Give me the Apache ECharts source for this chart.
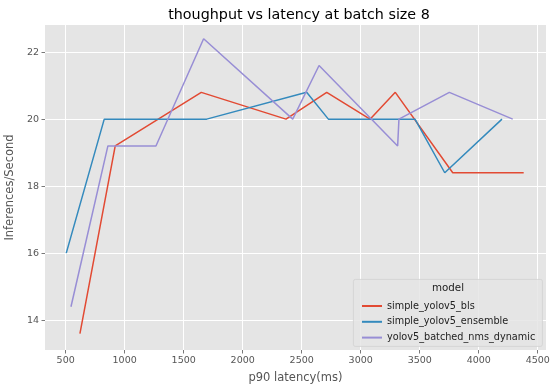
<!DOCTYPE html>
<html>
<head>
<meta charset="utf-8">
<script src="https://cdn.jsdelivr.net/npm/echarts@6/dist/echarts.min.js"></script>
<style>html,body{margin:0;padding:0;background:#fff;}#c{width:557px;height:391px;}</style>
</head>
<body>
<div id="c"></div>
<script>
const seriesNames = ['simple_yolov5_bls', 'simple_yolov5_ensemble', 'yolov5_batched_nms_dynamic'];
const blsX = [621, 920, 1649, 2367, 2712, 3079, 3293, 3780, 4381];
const blsY = [13.6, 19.2, 20.8, 20.0, 20.8, 20.0, 20.8, 18.4, 18.4];
const ensX = [505, 827, 1695, 2542, 2726, 3460, 3712, 4197];
const ensY = [16.0, 20.0, 20.0, 20.8, 20.0, 20.0, 18.4, 20.0];
const nmsX = [545, 858, 1265, 1669, 2424, 2647, 3313, 3324, 3751, 4288];
const nmsY = [14.4, 19.2, 19.2, 22.4, 20.0, 21.6, 19.2, 20.0, 20.8, 20.0];
const xTicks = [500, 1000, 1500, 2000, 2500, 3000, 3500, 4000, 4500];
const yTicks = [14, 16, 18, 20, 22];
const colors = ['#E24A33', '#348ABD', '#988ED5'];

const pairs = (xs, ys) => xs.map((x, i) => [x, ys[i]]);
const allData = [pairs(blsX, blsY), pairs(ensX, ensY), pairs(nmsX, nmsY)];

const chart = echarts.init(document.getElementById('c'), null, {renderer: 'canvas'});
const font = 'DejaVu Sans';
chart.setOption({
  animation: false,
  backgroundColor: '#fff',
  title: {
    text: 'thoughput vs latency at batch size 8',
    left: 294, top: 3, textAlign: 'center',
    textStyle: {fontFamily: font, fontSize: 14.3, fontWeight: 'normal', color: '#000'}
  },
  grid: {left: 45, right: 11, top: 25, bottom: 41, show: true, backgroundColor: '#E5E5E5', borderWidth: 0,
         containLabel: false, outerBoundsMode: 'none'},
  xAxis: {
    type: 'value', min: 325, max: 4570,
    name: 'p90 latency(ms)', nameLocation: 'middle', nameGap: 22,
    nameTextStyle: {fontFamily: font, fontSize: 11.5, color: '#555'},
    axisLine: {show: false},
    axisTick: {show: true, customValues: xTicks, length: 3.5, lineStyle: {color: '#555', width: 0.8}},
    axisLabel: {customValues: xTicks, formatter: v => String(v), fontFamily: font, fontSize: 9.5, color: '#555', margin: 6},
    splitLine: {show: true, lineStyle: {color: '#fff', width: 1}}
  },
  yAxis: {
    type: 'value', min: 13.11, max: 22.81,
    name: 'Inferences/Second', nameLocation: 'middle', nameGap: 27,
    nameTextStyle: {fontFamily: font, fontSize: 11.5, color: '#555'},
    axisLine: {show: false},
    axisTick: {show: true, customValues: yTicks, length: 3.5, lineStyle: {color: '#555', width: 0.8}},
    axisLabel: {customValues: yTicks, formatter: v => String(v), fontFamily: font, fontSize: 9.5, color: '#555', margin: 6},
    splitLine: {show: true, lineStyle: {color: '#fff', width: 1}}
  },
  legend: {
    data: seriesNames, z: 100,
    orient: 'vertical', left: 357, top: 296,
    icon: 'rect', itemWidth: 20, itemHeight: 2, itemGap: 5.8,
    textStyle: {fontFamily: font, fontSize: 9.7, color: '#222'}
  },
  graphic: [
    {type: 'rect', left: 353, top: 279, z: 20, shape: {width: 189, height: 67, r: 2},
     style: {fill: 'rgba(229,229,229,0.85)', stroke: '#d0d0d0', lineWidth: 0.8}},
    {type: 'text', left: 432, top: 283, z: 21,
     style: {text: 'model', font: '10.3px "DejaVu Sans"', fill: '#222'}}
  ],
  series: allData.map((d, i) => ({
    name: seriesNames[i], type: 'line', data: d, showSymbol: false, symbol: 'none',
    color: colors[i], lineStyle: {width: 1.5, color: colors[i]}, z: 5
  }))
});
</script>
</body>
</html>
